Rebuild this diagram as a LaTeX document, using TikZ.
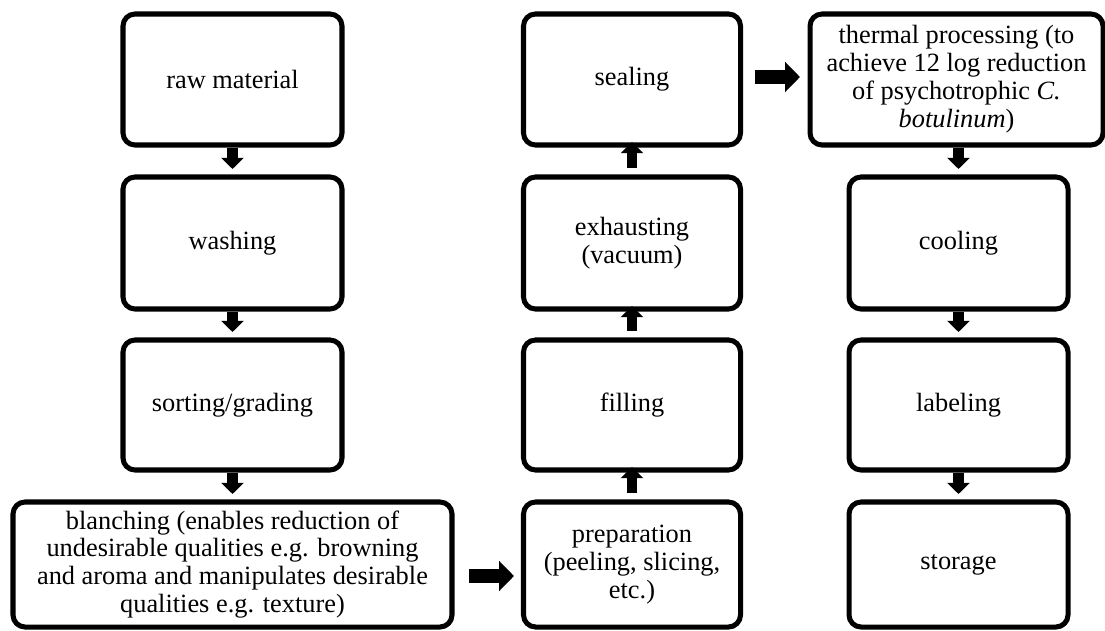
\documentclass[tikz,border=0pt]{standalone}
\usepackage{fontspec}
\setmainfont{Liberation Serif}
\usetikzlibrary{arrows.meta}

\begin{document}
\begin{tikzpicture}[font=\fontsize{15}{15.9}\selectfont,
 stage/.style={draw,line width=2.85pt,rounded corners=0.24cm,minimum width=4.38cm,minimum height=2.62cm,align=center,inner sep=2pt},
 vflow/.style={line width=6pt,-{Triangle[width=12.5pt,length=6.3pt]}},
 hflow/.style={line width=8.2pt,-{Triangle[width=16.8pt,length=8.5pt]}}]
\useasboundingbox (0,0) rectangle (22.1,12.6);
% first column, top to bottom
\node[stage] (raw) at (4.65,11.01) {raw material};
\node[stage,minimum height=2.64cm] (wash) at (4.65,7.74) {washing};
\node[stage,minimum height=2.6cm] (sort) at (4.65,4.5) {sorting/grading};
\node[stage,minimum width=8.78cm,minimum height=2.5cm] (blanch) at (4.65,1.31) {blanching (enables reduction of\\undesirable qualities e.g. browning\\and aroma and manipulates desirable\\qualities e.g. texture)};
% second column, bottom to top
\node[stage,minimum width=4.34cm,minimum height=2.5cm] (prep) at (12.64,1.31) {preparation\\(peeling, slicing,\\etc.)};
\node[stage,minimum width=4.34cm,minimum height=2.6cm] (fill) at (12.64,4.5) {filling};
\node[stage,minimum width=4.34cm,minimum height=2.64cm] (exhaust) at (12.64,7.74) {exhausting\\(vacuum)};
\node[stage,minimum width=4.34cm] (seal) at (12.64,11.01) {sealing};
% third column
\node[stage,minimum width=5.86cm] (thermal) at (19.13,11.01) {thermal processing (to\\achieve 12 log reduction\\of psychotrophic \textit{C.}\\\textit{botulinum})};
\node[stage,minimum height=2.64cm] (cool) at (19.17,7.74) {cooling};
\node[stage,minimum height=2.6cm] (label) at (19.17,4.5) {labeling};
\node[stage,minimum height=2.5cm] (store) at (19.17,1.31) {storage};
\draw[vflow,shorten >=0.11cm] (raw)--(wash);
\draw[vflow,shorten >=0.11cm] (wash)--(sort);
\draw[vflow,shorten >=0.11cm] (sort)--(blanch);
\draw[hflow,shorten <=0.29cm,shorten >=0.14cm] ([yshift=-0.23cm]blanch.east)--([yshift=-0.23cm]prep.west);
\draw[vflow,shorten <=0.13cm,shorten >=-0.11cm] (prep)--(fill);
\draw[vflow,shorten <=0.13cm,shorten >=-0.11cm] (fill)--(exhaust);
\draw[vflow,shorten <=0.13cm,shorten >=-0.11cm] (exhaust)--(seal);
\draw[hflow,shorten <=0.24cm,shorten >=0.15cm] ([yshift=0.05cm]seal.east)--([yshift=0.05cm]thermal.west);
\draw[vflow,shorten >=0.11cm] (thermal.south-|cool)--(cool);
\draw[vflow,shorten >=0.11cm] (cool)--(label);
\draw[vflow,shorten >=0.11cm] (label)--(store);
\end{tikzpicture}
\end{document}
